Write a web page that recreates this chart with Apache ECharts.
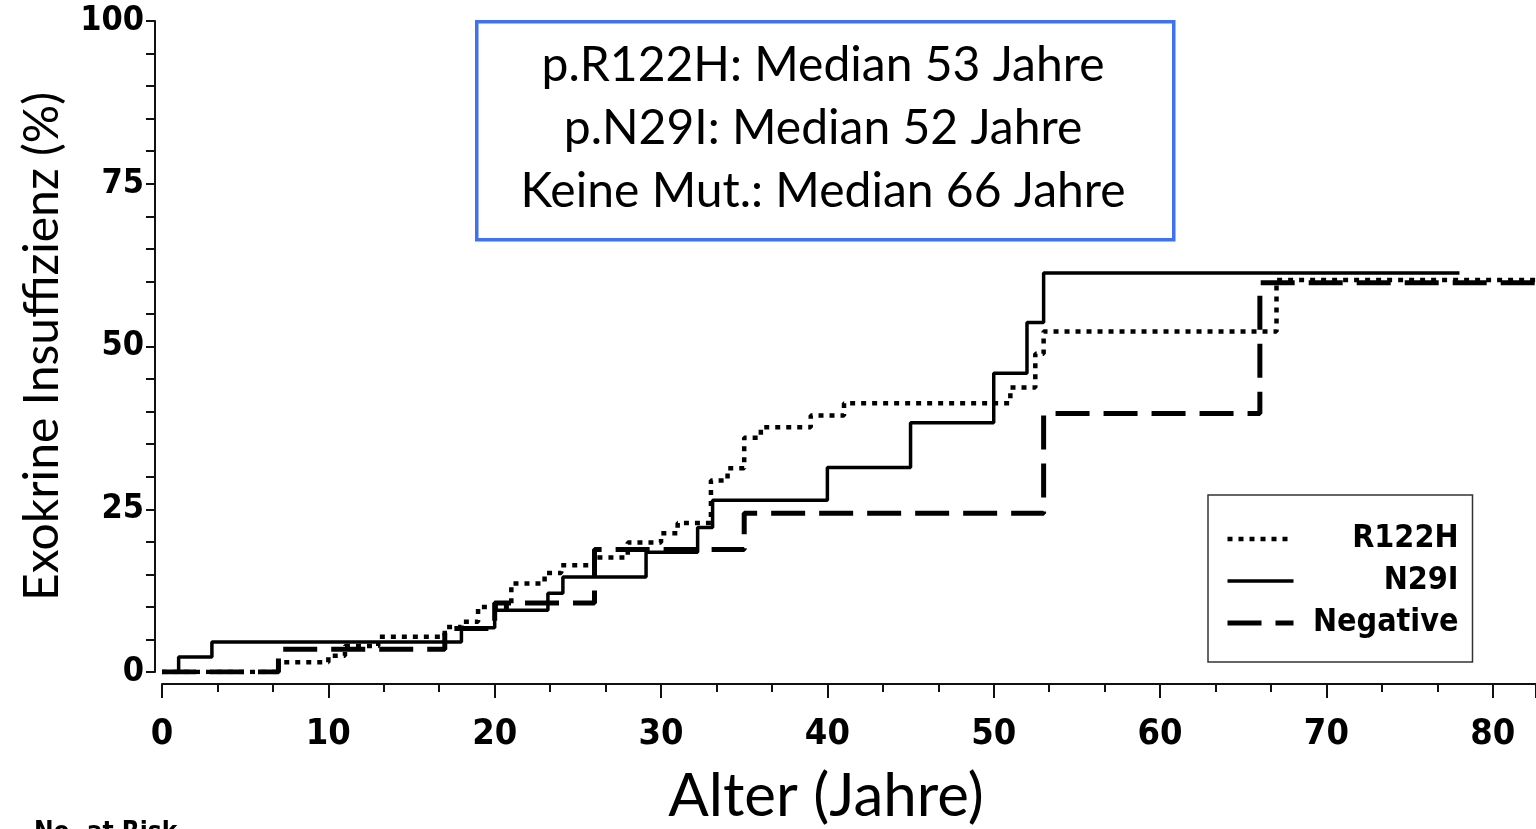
<!DOCTYPE html>
<html>
<head>
<meta charset="utf-8">
<title>Exokrine Insuffizienz</title>
<script src="https://cdn.jsdelivr.net/npm/echarts@6/dist/echarts.min.js"></script>
<style>
  html, body { margin: 0; padding: 0; background: #fff; }
  #km_chart { width: 1536px; height: 829px; }
</style>
</head>
<body>
<div id="km_chart"></div>
<script>
// Kaplan-Meier steps: age (years) and cumulative %
const ageR122H = [0, 7, 10, 11, 13, 17, 18, 19, 21, 23, 24, 26, 28, 30, 31, 33, 34, 35, 36, 39, 41, 51, 52.5, 53, 67, 84];
const pctR122H = [0, 1.5, 2.5, 4, 5.4, 6.9, 7.7, 10, 13.6, 15.2, 16.4, 17.6, 19.9, 21.3, 22.9, 29.4, 31.3, 36, 37.6, 39.4, 41.3, 43.7, 48.9, 52.3, 60.2, 60.2];

const ageN29I = [0, 1, 3, 18, 20, 23.2, 24.1, 29.1, 32.2, 33.1, 40, 45, 50, 52, 53, 78];
const pctN29I = [0, 2.3, 4.6, 6.8, 9.5, 12.1, 14.6, 18.4, 22.2, 26.4, 31.4, 38.3, 45.9, 53.7, 61.3, 61.3];

const ageNeg = [0, 7, 17, 20, 26, 35, 53, 66, 84];
const pctNeg = [0, 3.5, 6.7, 10.6, 18.8, 24.4, 39.7, 59.8, 59.8];

const seriesNames = ["R122H", "N29I", "Negative"];
const lineWidths = [4.5, 3.5, 5];
const lineTypes = [[5, 6], "solid", [34, 14]];
const medianLines = ["p.R122H: Median 53 Jahre", "p.N29I: Median 52 Jahre", "Keine Mut.: Median 66 Jahre"];

const tickFont = '"Liberation Sans Narrow", "DejaVu Sans Condensed", "Liberation Sans", sans-serif';
const textFont = 'Lato, "Open Sans", sans-serif';

function pairs(xs, ys) {
  return xs.map((x, i) => [x, ys[i]]);
}

function kmSeries(i, xs, ys) {
  return {
    name: seriesNames[i],
    type: "line",
    step: "end",
    symbol: "none",
    clip: true,
    data: pairs(xs, ys),
    lineStyle: { color: "#000", width: lineWidths[i], type: lineTypes[i], cap: "butt" },
    itemStyle: { color: "#000" }
  };
}

const chart = echarts.init(document.getElementById("km_chart"));

const option = {
  backgroundColor: "#fff",
  animation: false,
  grid: { left: 162, right: 0, top: 21, bottom: 157, outerBoundsMode: "none", containLabel: false },
  xAxis: {
    type: "value",
    min: 0,
    max: 82.6,
    interval: 10,
    offset: 12,
    name: "Alter (Jahre)",
    nameLocation: "middle",
    nameGap: 83,
    nameTextStyle: { fontFamily: textFont, fontSize: 60, color: "#000", padding: [0, 46, 0, 0] },
    axisLine: { onZero: false, lineStyle: { color: "#111", width: 2 } },
    axisTick: { length: 14, lineStyle: { color: "#111", width: 2 } },
    minorTick: { show: true, splitNumber: 3, length: 8, lineStyle: { color: "#111", width: 2 } },
    splitLine: { show: false },
    axisLabel: {
      showMaxLabel: false,
      margin: 33,
      color: "#000",
      fontSize: 36,
      fontWeight: "bold",
      fontFamily: tickFont
    }
  },
  yAxis: {
    type: "value",
    min: 0,
    max: 100,
    interval: 25,
    offset: 7,
    name: "Exokrine Insuffizienz (%)",
    nameLocation: "middle",
    nameRotate: 90,
    nameGap: 88,
    nameTextStyle: { fontFamily: textFont, fontSize: 48, color: "#000" },
    axisLine: { show: true, onZero: false, lineStyle: { color: "#111", width: 2 } },
    axisTick: { show: true, length: 9, lineStyle: { color: "#111", width: 2 } },
    minorTick: { show: true, splitNumber: 5, length: 9, lineStyle: { color: "#111", width: 2 } },
    splitLine: { show: false },
    axisLabel: {
      margin: 11,
      color: "#000",
      fontSize: 34,
      fontWeight: "bold",
      fontFamily: tickFont
    }
  },
  legend: {
    orient: "vertical",
    left: 1208,
    top: 495,
    data: seriesNames.map((n, i) => ({
      name: n,
      lineStyle: { width: lineWidths[i], type: lineTypes[i], color: "#000" }
    })),
    borderColor: "#333",
    borderWidth: 1.5,
    padding: [28, 14, 23, 17],
    itemGap: 10,
    itemWidth: 66,
    itemHeight: 30,
    selectedMode: false,
    itemStyle: { color: "rgba(0,0,0,0)", borderColor: "rgba(0,0,0,0)", borderWidth: 0 },
    formatter: function (name) { return "{t|" + name + "}"; },
    textStyle: {
      rich: {
        t: {
          width: 160,
          lineHeight: 30,
          align: "right",
          fontSize: 32,
          fontWeight: "bold",
          fontFamily: tickFont,
          color: "#000"
        }
      }
    }
  },
  graphic: [
    {
      type: "rect",
      left: 475,
      top: 20,
      shape: { width: 697, height: 218 },
      style: { fill: "#fff", stroke: "#3f72f0", lineWidth: 3.5 },
      z: 10
    },
    {
      type: "text",
      x: 823,
      y: 66,
      style: { text: medianLines[0], fill: "#000", font: "48px " + textFont, align: "center", verticalAlign: "middle" },
      z: 11
    },
    {
      type: "text",
      x: 823,
      y: 129,
      style: { text: medianLines[1], fill: "#000", font: "48px " + textFont, align: "center", verticalAlign: "middle" },
      z: 11
    },
    {
      type: "text",
      x: 823,
      y: 192,
      style: { text: medianLines[2], fill: "#000", font: "48px " + textFont, align: "center", verticalAlign: "middle" },
      z: 11
    },
    {
      type: "text",
      left: 34,
      top: 820,
      style: { text: "No. at Risk", fill: "#000", font: "bold 26px " + tickFont },
      z: 11
    }
  ],
  series: [
    kmSeries(0, ageR122H, pctR122H),
    kmSeries(1, ageN29I, pctN29I),
    kmSeries(2, ageNeg, pctNeg)
  ]
};

chart.setOption(option);

window.addEventListener("resize", function () {
  chart.resize();
});
</script>
</body>
</html>
